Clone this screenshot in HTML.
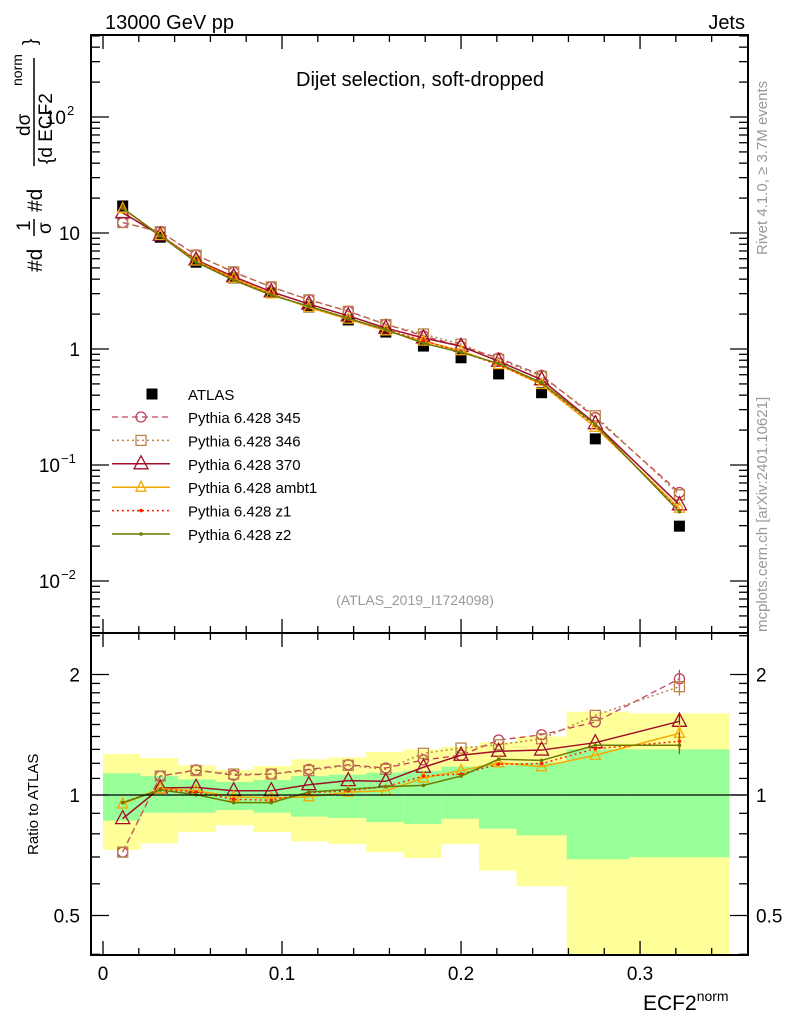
<!DOCTYPE html>
<html><head><meta charset="utf-8">
<style>
body{margin:0;background:#fff;}
svg{display:block;font-family:"Liberation Sans",Arial,sans-serif;}
</style></head>
<body>
<svg id="chart" width="786" height="1024" viewBox="0 0 786 1024" xmlns="http://www.w3.org/2000/svg">
<rect width="786" height="1024" fill="#fff"/>
<g id="bands"></g>
<g id="grid"></g>
<g id="series"></g>
<g id="axes"></g>
<text x="105" y="29" font-size="20">13000 GeV pp</text>
<text x="745" y="29" font-size="20" text-anchor="end">Jets</text>
<text x="420" y="86" font-size="20" text-anchor="middle">Dijet selection, soft-dropped</text>
<text x="415" y="605" font-size="14" fill="#999" text-anchor="middle">(ATLAS_2019_I1724098)</text>
<text transform="translate(767,255) rotate(-90)" font-size="15" fill="#999">Rivet 4.1.0, ≥ 3.7M events</text>
<text transform="translate(767,632) rotate(-90)" font-size="15" fill="#999">mcplots.cern.ch [arXiv:2401.10621]</text>
<g font-size="21">
<text transform="translate(42,272) rotate(-90)">#d</text>
<text transform="translate(30,231) rotate(-90)" font-size="19">1</text>
<line x1="34" y1="219" x2="34" y2="236" stroke="#000" stroke-width="1.5"/>
<text transform="translate(51,234) rotate(-90)" font-size="19">σ</text>
<text transform="translate(42,212) rotate(-90)">#d</text>
<text transform="translate(30,136) rotate(-90)" font-size="19">dσ</text>
<line x1="34" y1="58" x2="34" y2="166" stroke="#000" stroke-width="1.5"/>
<text transform="translate(52,164) rotate(-90)" font-size="19">{d ECF2</text>
<text transform="translate(22,86) rotate(-90)" font-size="14">norm</text>
<text transform="translate(36,45) rotate(-90)" font-size="19">}</text>
</g>
<text transform="translate(38,855) rotate(-90)" font-size="15">Ratio to ATLAS</text>
<text x="643" y="1010" font-size="21">ECF2<tspan font-size="14" dy="-9">norm</tspan></text>
<g id="legend"></g>
</svg>
<script>
const binEdges=[0,0.021,0.042,0.063,0.084,0.105,0.126,0.147,0.168,0.189,0.21,0.231,0.259,0.294,0.35];
const xPoints=[0.011,0.032,0.052,0.073,0.094,0.115,0.137,0.158,0.179,0.2,0.221,0.245,0.275,0.322];
const atlasValues=[17.1,9.2,5.6,4.1,3.04,2.3,1.78,1.40,1.06,0.84,0.61,0.42,0.168,0.0297];
const bandYellowHi=[1.266,1.237,1.186,1.155,1.181,1.228,1.242,1.281,1.30,1.32,1.356,1.40,1.615,1.60];
const bandYellowLo=[0.729,0.757,0.808,0.840,0.808,0.766,0.754,0.72,0.696,0.754,0.647,0.592,0.3,0.3];
const bandGreenHi=[1.133,1.115,1.094,1.078,1.09,1.115,1.124,1.137,1.149,1.177,1.186,1.204,1.30,1.30];
const bandGreenLo=[0.863,0.903,0.903,0.917,0.903,0.883,0.876,0.856,0.846,0.872,0.824,0.793,0.691,0.699];
const ratio345=[0.72,1.115,1.155,1.12,1.128,1.159,1.19,1.168,1.223,1.257,1.372,1.414,1.522,1.952];
const ratio346=[0.72,1.115,1.151,1.128,1.128,1.151,1.186,1.159,1.271,1.31,1.335,1.382,1.581,1.865];
const ratio370=[0.873,1.041,1.045,1.025,1.025,1.061,1.086,1.082,1.173,1.257,1.286,1.295,1.351,1.528];
const ratioAmbt1=[0.95,1.037,1.025,0.99,0.983,0.99,1.017,1.025,1.103,1.151,1.204,1.177,1.257,1.426];
const ratioZ1=[0.957,1.033,1.017,0.976,0.97,1.013,1.025,1.049,1.115,1.128,1.194,1.198,1.305,1.362];
const ratioZ2=[0.957,1.029,1.002,0.957,0.957,1.017,1.033,1.049,1.057,1.115,1.228,1.22,1.331,1.331];
const seriesNames=["Pythia 6.428 345","Pythia 6.428 346","Pythia 6.428 370","Pythia 6.428 ambt1","Pythia 6.428 z1","Pythia 6.428 z2"];
const xTicks=[0,0.1,0.2,0.3];
const xTickLabels=["0","0.1","0.2","0.3"];

const NS="http://www.w3.org/2000/svg";
const L=91,R=748,T=35,MB=633,RB=955;
const X0=-0.0067,X1=0.3603;
const sx=v=>L+(v-X0)/(X1-X0)*(R-L);
const yMain=v=>349-116*Math.log10(v);
const yRat=v=>795-120.5*Math.log2(v);
function el(parent,tag,attrs){const e=document.createElementNS(NS,tag);for(const k in attrs)e.setAttribute(k,attrs[k]);parent.appendChild(e);return e;}
const bands=document.getElementById('bands'),axes=document.getElementById('axes'),series=document.getElementById('series'),legend=document.getElementById('legend');

for(let i=0;i<binEdges.length-1;i++){
  const x1=sx(binEdges[i]),x2=sx(binEdges[i+1]);
  const ylo=Math.min(yRat(bandYellowLo[i]),RB),yhi=Math.max(yRat(bandYellowHi[i]),MB);
  const r1=el(bands,'rect',{x:x1,y:yhi,width:x2-x1,height:ylo-yhi,fill:'#ffff99'});
  
  
  const g1=yRat(bandGreenHi[i]),g2=yRat(bandGreenLo[i]);
  const r2=el(bands,'rect',{x:x1,y:g1,width:x2-x1,height:g2-g1,fill:'#99ff99'});
  
  
}
el(axes,'line',{x1:L,x2:R,y1:yRat(1),y2:yRat(1),stroke:'#000','stroke-width':1.3});

el(axes,'rect',{x:L,y:T,width:R-L,height:MB-T,fill:'none',stroke:'#000','stroke-width':2});
el(axes,'rect',{x:L,y:MB,width:R-L,height:RB-MB,fill:'none',stroke:'#000','stroke-width':2});
for(let k=0;k<=17;k++){const v=k*0.02;const xx=sx(v);const maj=(k%5===0);const len=maj?14:7;
  el(axes,'line',{x1:xx,x2:xx,y1:RB,y2:RB-len,stroke:'#000','stroke-width':1.3});
  el(axes,'line',{x1:xx,x2:xx,y1:MB,y2:MB+len,stroke:'#000','stroke-width':1.3});
  el(axes,'line',{x1:xx,x2:xx,y1:T,y2:T+len,stroke:'#000','stroke-width':1.3});
  el(axes,'line',{x1:xx,x2:xx,y1:MB,y2:MB-len,stroke:'#000','stroke-width':1.3});
}
xTicks.forEach((v,i)=>{const t=el(axes,'text',{x:sx(v),y:980,'font-size':19,'text-anchor':'middle'});t.textContent=xTickLabels[i];
  
  });
for(let e=-3;e<=2;e++){for(let m=1;m<=9;m++){const v=m*Math.pow(10,e);const yy=yMain(v);if(yy<T||yy>MB)continue;const len=m===1?18:9;
  el(axes,'line',{x1:L,x2:L+len,y1:yy,y2:yy,stroke:'#000','stroke-width':1.3});
  el(axes,'line',{x1:R,x2:R-len,y1:yy,y2:yy,stroke:'#000','stroke-width':1.3});}}
const yLabs=[[100,'10','2'],[10,'10',''],[1,'1',''],[0.1,'10','−1'],[0.01,'10','−2']];
yLabs.forEach(([v,b,s])=>{const t=el(axes,'text',{x:s?(s.length>1?60:66):80,y:yMain(v)+7,'font-size':19,'text-anchor':'end'});t.textContent=b;
  
  
  if(s){const u=el(axes,'text',{x:s.length>1?61:67,y:yMain(v)-2,'font-size':13});u.textContent=s;}});
for(const v of [0.4,0.5,0.6,0.7,0.8,0.9,1,1.1,1.2,1.3,1.4,1.5,1.6,1.7,1.8,1.9,2,2.5]){const yy=yRat(v);if(yy<MB||yy>RB)continue;const len=(v===0.5||v===1||v===2)?18:9;
  el(axes,'line',{x1:L,x2:L+len,y1:yy,y2:yy,stroke:'#000','stroke-width':1.3});
  el(axes,'line',{x1:R,x2:R-len,y1:yy,y2:yy,stroke:'#000','stroke-width':1.3});}
[[2,'2'],[1,'1'],[0.5,'0.5']].forEach(([v,s])=>{
  const t=el(axes,'text',{x:80,y:yRat(v)+7,'font-size':19,'text-anchor':'end'});t.textContent=s;
  
  
  const t2=el(axes,'text',{x:756,y:yRat(v)+7,'font-size':19});t2.textContent=s;
  
  });

function marker(g,type,x,y,color){
  if(type==='circle')el(g,'circle',{cx:x,cy:y,r:5,fill:'none',stroke:color,'stroke-width':1.3});
  else if(type==='square')el(g,'rect',{x:x-5,y:y-5,width:10,height:10,fill:'none',stroke:color,'stroke-width':1.3});
  else if(type==='tri')el(g,'path',{d:`M${x},${y-8}L${x+7},${y+5}L${x-7},${y+5}Z`,fill:'none',stroke:color,'stroke-width':1.3});
  else if(type==='tris')el(g,'path',{d:`M${x},${y-6}L${x+5},${y+4}L${x-5},${y+4}Z`,fill:'none',stroke:color,'stroke-width':1.3});
  else if(type==='dot')el(g,'circle',{cx:x,cy:y,r:1.8,fill:color});
  else if(type==='full')el(g,'rect',{x:x-5.5,y:y-5.5,width:11,height:11,fill:color});
}
const styles=[
 {r:ratio345,c:'#c0405a',dash:'6,4',w:1.3,m:'circle'},
 {r:ratio346,c:'#b8844a',dash:'2,3',w:1.5,m:'square'},
 {r:ratio370,c:'#a0102a',dash:'',w:1.5,m:'tri'},
 {r:ratioAmbt1,c:'#f4a800',dash:'',w:1.5,m:'tris'},
 {r:ratioZ1,c:'#ff2000',dash:'2,3',w:1.5,m:'dot'},
 {r:ratioZ2,c:'#6b7a00',dash:'',w:1.5,m:'dot'}];
const ga=el(series,'g',{});


xPoints.forEach((x,i)=>marker(ga,'full',sx(x),yMain(atlasValues[i]),'#000'));
styles.forEach((s,k)=>{
  const g=el(series,'g',{});
  
  
  const mainPts=xPoints.map((x,i)=>[sx(x),yMain(atlasValues[i]*s.r[i])]);
  const ratPts=xPoints.map((x,i)=>[sx(x),yRat(s.r[i])]);
  for(const pts of [mainPts,ratPts]){
    el(g,'polyline',{points:pts.map(p=>p.join(',')).join(' '),fill:'none',stroke:s.c,'stroke-width':s.w,'stroke-dasharray':s.dash});
    pts.forEach(p=>marker(g,s.m,p[0],p[1],s.c));
  }
  const lp=ratPts[ratPts.length-1];
  el(g,'line',{x1:lp[0],x2:lp[0],y1:lp[1]-9,y2:lp[1]+9,stroke:s.c,'stroke-width':1.3});
  const ly=417+k*23.4;
  const lg=el(legend,'g',{});
  
  
  el(lg,'line',{x1:112,x2:170,y1:ly,y2:ly,stroke:s.c,'stroke-width':s.w,'stroke-dasharray':s.dash});
  marker(lg,s.m,141,ly,s.c);
  const t=el(lg,'text',{x:188,y:ly+6,'font-size':15});t.textContent=seriesNames[k];
});
const la=el(legend,'g',{});


marker(la,'full',152,394,'#000');
const tla=el(la,'text',{x:188,y:400,'font-size':15});tla.textContent='ATLAS';
</script>
</body></html>
